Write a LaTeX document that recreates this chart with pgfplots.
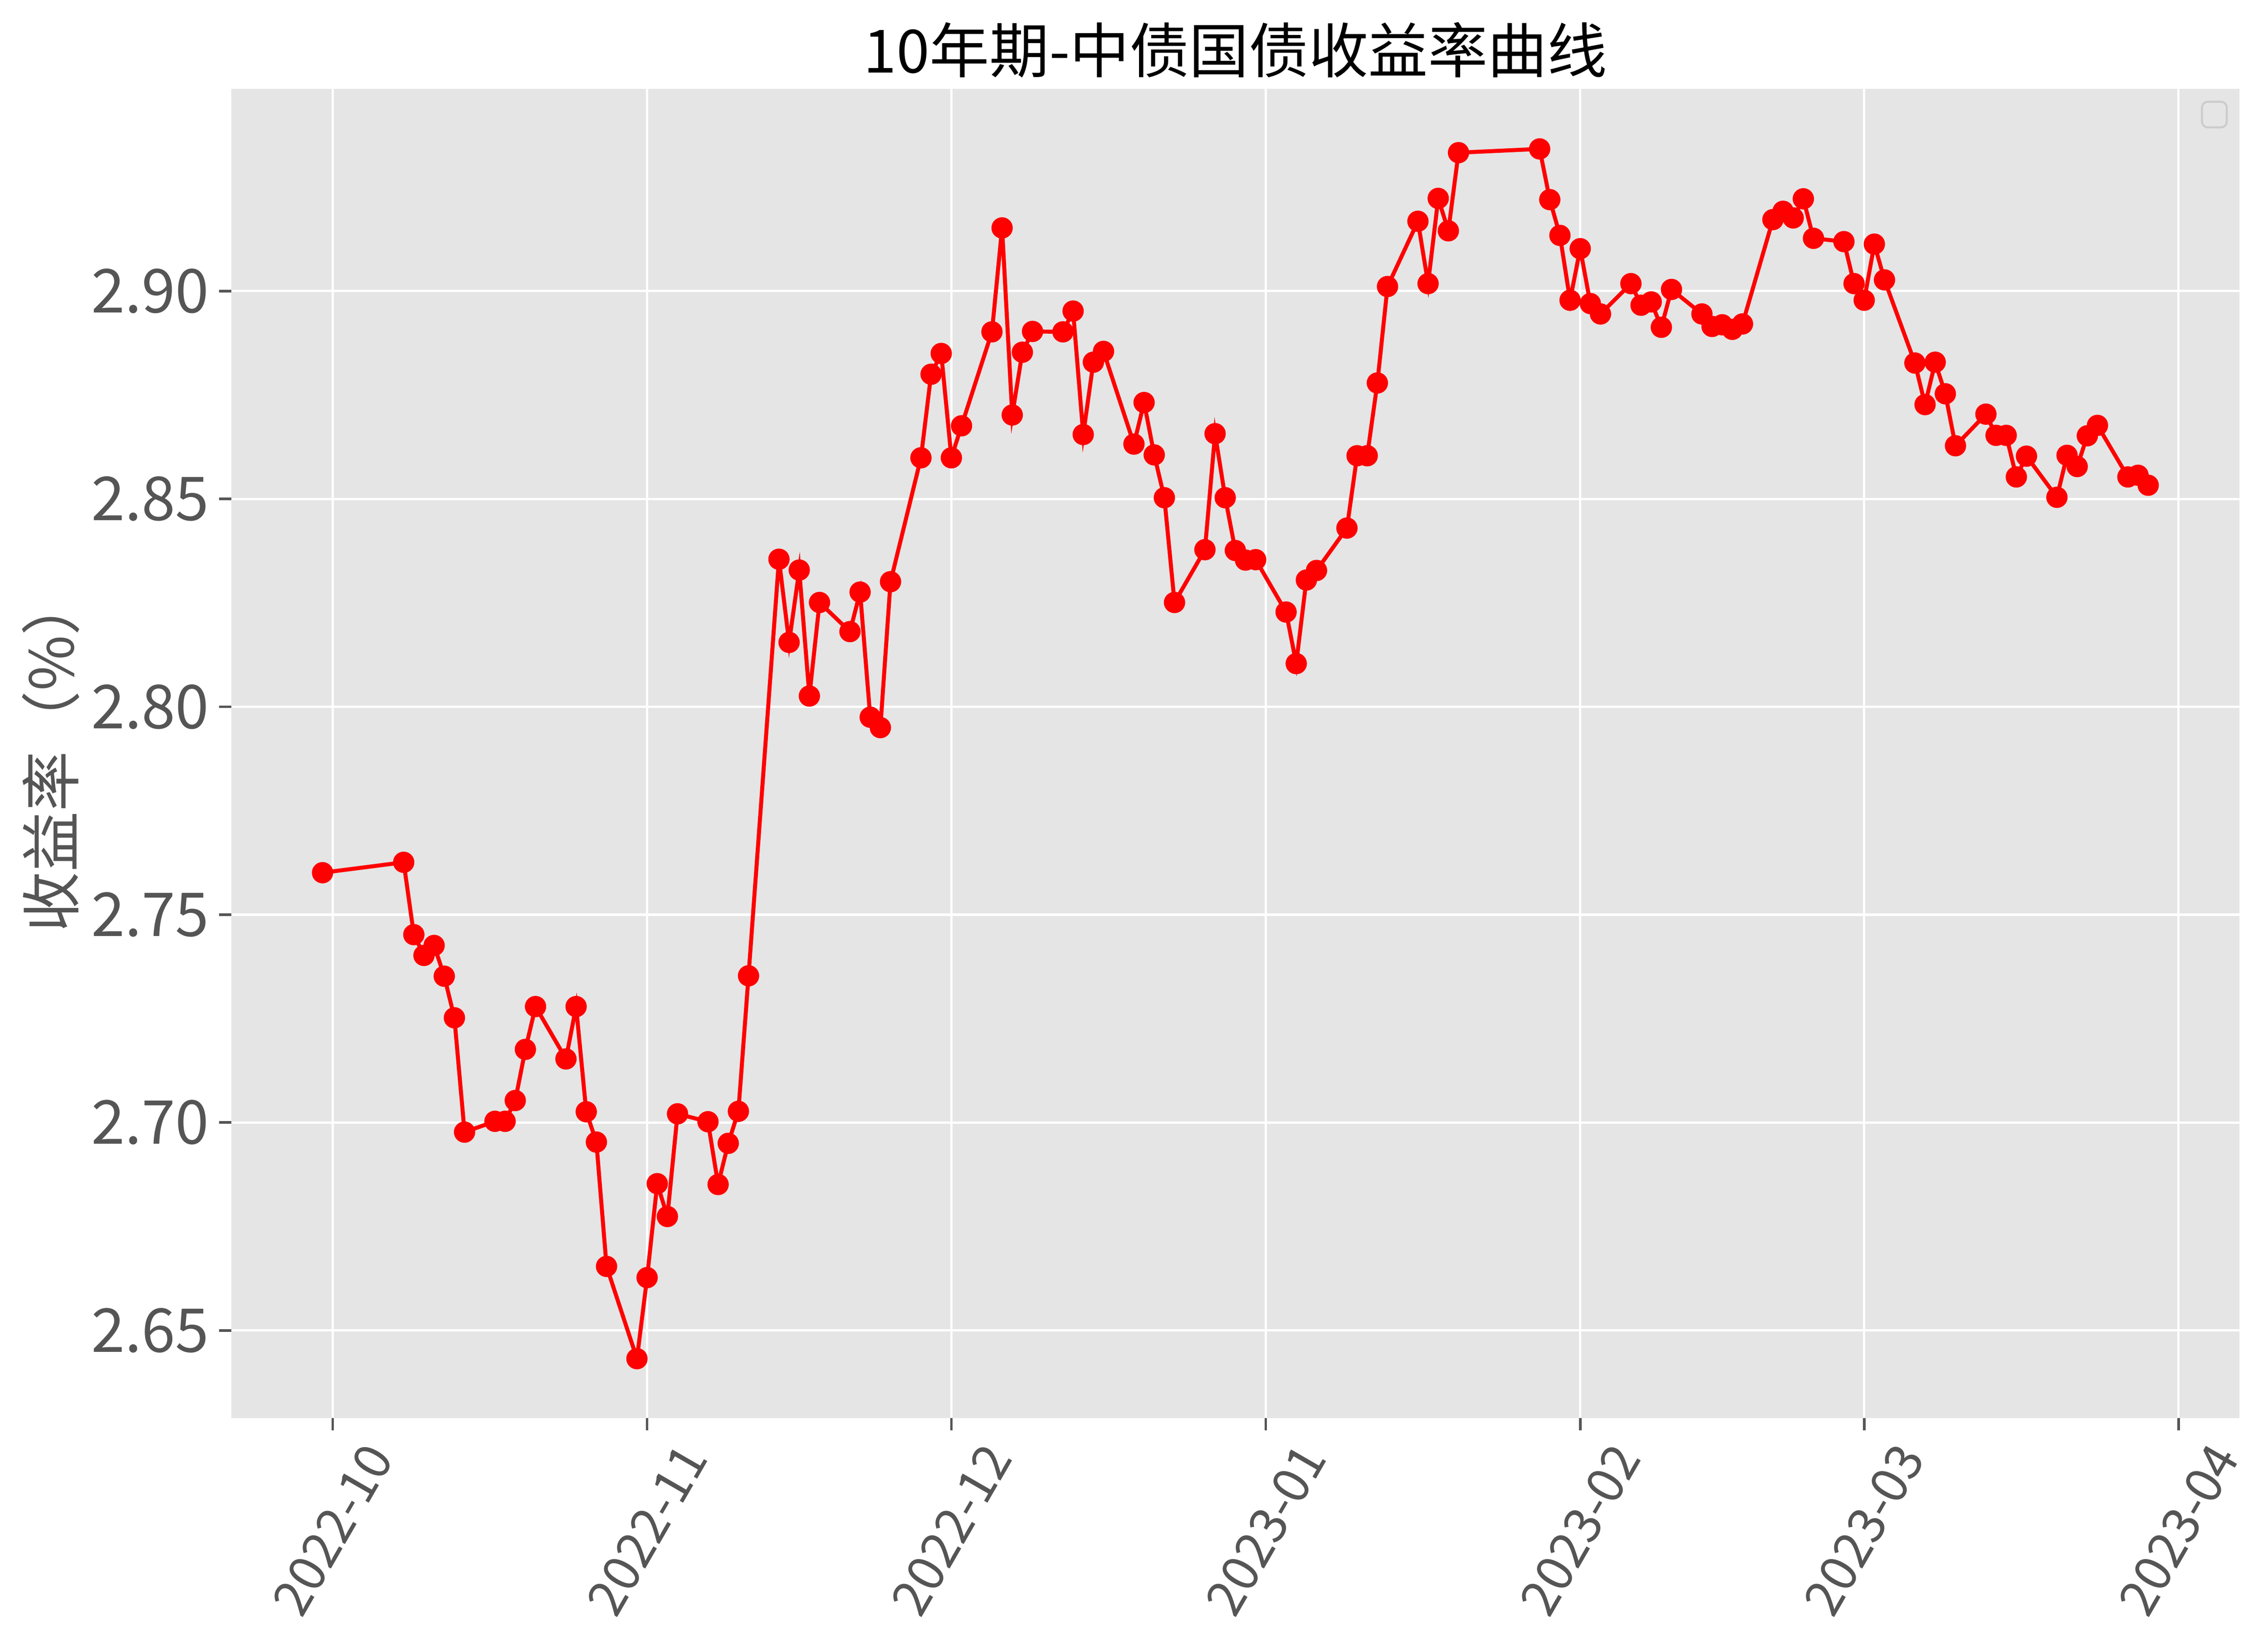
\documentclass[border=0pt]{standalone}
\usepackage{fontspec}
\setmainfont{Noto Sans CJK SC}
\usepackage{pgfplots}
\usepackage{pgfplotstable}
\pgfplotsset{compat=1.18}

\definecolor{panelgrey}{HTML}{E5E5E5}
\definecolor{textgrey}{HTML}{555555}
\definecolor{legendedge}{HTML}{CCCCCC}

% day = days since 2022-10-01, yield in %
\pgfplotstableread{
day yield
-1 2.7601
7 2.7626
8 2.7452
9 2.7402
10 2.7426
11 2.7352
12 2.7252
13 2.6977
16 2.7003
17 2.7003
18 2.7053
19 2.7176
20 2.7279
23 2.7153
24 2.7279
25 2.7026
26 2.6953
27 2.6654
30 2.6432
31 2.6627
32 2.6853
33 2.6774
34 2.7021
37 2.7002
38 2.6851
39 2.6950
40 2.7027
41 2.7353
44 2.8355
45 2.8155
46 2.8329
47 2.8026
48 2.8251
51 2.8181
52 2.8276
53 2.7975
54 2.7950
55 2.8301
58 2.8599
59 2.8800
60 2.8850
61 2.8599
62 2.8676
65 2.8902
66 2.9152
67 2.8702
68 2.8853
69 2.8903
72 2.8902
73 2.8952
74 2.8655
75 2.8829
76 2.8855
79 2.8632
80 2.8732
81 2.8606
82 2.8503
83 2.8251
86 2.8378
87 2.8657
88 2.8503
89 2.8376
90 2.8353
91 2.8354
94 2.8228
95 2.8104
96 2.8305
97 2.8328
100 2.8430
101 2.8604
102 2.8604
103 2.8779
104 2.9011
107 2.9168
108 2.9018
109 2.9223
110 2.9145
111 2.9333
119 2.9342
120 2.9220
121 2.9134
122 2.8978
123 2.9102
124 2.8970
125 2.8945
128 2.9018
129 2.8966
130 2.8974
131 2.8913
132 2.9004
135 2.8945
136 2.8915
137 2.8919
138 2.8908
139 2.8921
142 2.9172
143 2.9192
144 2.9176
145 2.9222
146 2.9127
149 2.9119
150 2.9018
151 2.8978
152 2.9113
153 2.9027
156 2.8827
157 2.8727
158 2.8829
159 2.8753
160 2.8628
163 2.8704
164 2.8653
165 2.8653
166 2.8553
167 2.8603
170 2.8504
171 2.8605
172 2.8578
173 2.8652
174 2.8677
177 2.8553
178 2.8557
179 2.8533
}\yielddata

\begin{document}
\begin{tikzpicture}
\begin{axis}[
    scale only axis,
    width=696.4pt,
    height=461pt,
    xmin=-10, xmax=188,
    ymin=2.6289, ymax=2.9486,
    axis background/.style={fill=panelgrey},
    axis line style={draw=none},
    grid=major,
    major grid style={white, line width=0.8pt},
    tick align=outside,
    major tick length=4.2pt,
    tick style={textgrey, line width=0.9pt},
    xtick pos=left, ytick pos=left,
    xtick={0,31,61,92,123,151,182},
    xticklabels={2022-10,2022-11,2022-12,2023-01,2023-02,2023-03,2023-04},
    ytick={2.65,2.70,2.75,2.80,2.85,2.90},
    /pgf/number format/assume math mode=true,
    yticklabel style={/pgf/number format/fixed, /pgf/number format/fixed zerofill, /pgf/number format/precision=2},
    x tick label style={font=\fontsize{17.5pt}{20pt}\selectfont, text=textgrey, inner sep=0pt, yshift=-34.5pt, rotate=60, anchor=center},
    y tick label style={font=\fontsize{21pt}{24pt}\selectfont, text=textgrey, inner sep=0pt, anchor=east, xshift=-3.3pt},
    title={10年期-中债国债收益率曲线},
    title style={font=\fontsize{20.7pt}{24pt}\selectfont, at={(axis description cs:0.5,1)}, anchor=south, inner sep=0pt, yshift=-2.3pt},
    ylabel={收益率（\%）},
    ylabel style={font=\fontsize{20.9pt}{24pt}\selectfont, text=textgrey, at={(axis description cs:-0.0899,0.5)}, anchor=center, inner sep=0pt},
]
\addplot[color=red, line width=1.4pt, mark=*, mark size=3.5pt,
    mark options={fill=red, draw=red, line width=0.4pt}]
    table[x=day, y=yield] {\yielddata};
% empty legend box, as in the source figure
\draw[legendedge, fill=panelgrey, line width=0.7pt, rounded corners=2pt]
    ([xshift=-13pt,yshift=-13.3pt]rel axis cs:1,1) rectangle ([xshift=-4.4pt,yshift=-4.4pt]rel axis cs:1,1);
\end{axis}
\path ([shift={(-80.2pt,-79.7pt)}]current axis.south west) rectangle ([shift={(9.9pt,30.9pt)}]current axis.north east);
\end{tikzpicture}
\end{document}
